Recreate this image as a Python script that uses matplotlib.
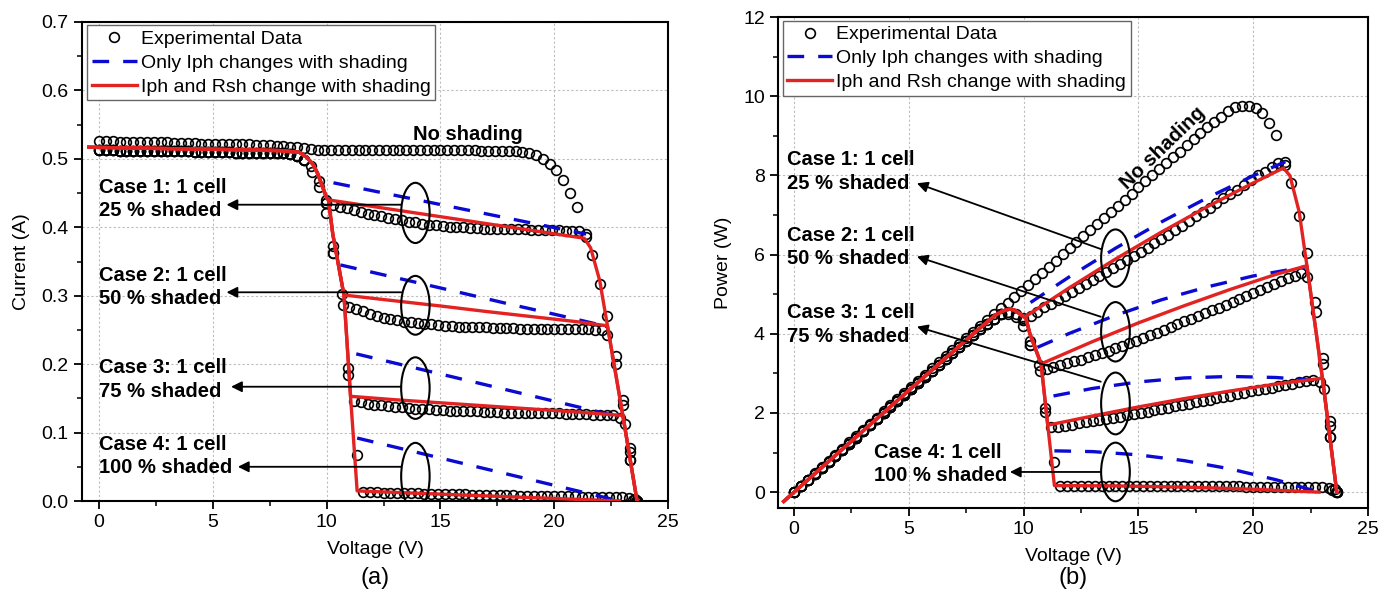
import numpy as np
import matplotlib
matplotlib.use('Agg')
import matplotlib.pyplot as plt
from matplotlib.patches import Ellipse
from matplotlib.lines import Line2D
from matplotlib.ticker import MultipleLocator

plt.rcParams['font.family'] = ['Liberation Sans', 'DejaVu Sans']

# ---------------- data (I-V) ----------------
# Experimental data, no shading
v_exp_noshade = [0.0, 0.3, 0.6, 0.9, 1.2, 1.5, 1.8, 2.1, 2.4, 2.7, 3.0, 3.3, 3.6, 3.9, 4.2, 4.5,
                 4.8, 5.1, 5.4, 5.7, 6.0, 6.3, 6.6, 6.9, 7.2, 7.5, 7.8, 8.1, 8.4, 8.7, 9.0, 9.3,
                 9.6, 9.9, 10.2, 10.5, 10.8, 11.1, 11.4, 11.7, 12.0, 12.3, 12.6, 12.9, 13.2, 13.5,
                 13.8, 14.1, 14.4, 14.7, 15.0, 15.3, 15.6, 15.9, 16.2, 16.5, 16.8, 17.1, 17.4,
                 17.7, 18.0, 18.3, 18.6, 18.9, 19.2, 19.5, 19.8, 20.1, 20.4, 20.7, 21.0, 21.4,
                 22.0, 22.7, 23.35, 23.64]
i_exp_noshade = [0.526, 0.526, 0.526, 0.525, 0.525, 0.525, 0.525, 0.524, 0.524, 0.524, 0.524,
                 0.523, 0.523, 0.523, 0.523, 0.522, 0.522, 0.522, 0.522, 0.521, 0.521, 0.521,
                 0.521, 0.520, 0.520, 0.520, 0.519, 0.519, 0.518, 0.518, 0.516, 0.514, 0.513,
                 0.513, 0.513, 0.513, 0.513, 0.513, 0.513, 0.513, 0.513, 0.513, 0.513, 0.513,
                 0.513, 0.513, 0.513, 0.513, 0.513, 0.513, 0.513, 0.513, 0.513, 0.513, 0.513,
                 0.513, 0.512, 0.512, 0.512, 0.512, 0.512, 0.511, 0.510, 0.509, 0.506, 0.500,
                 0.493, 0.483, 0.469, 0.450, 0.429, 0.386, 0.317, 0.212, 0.072, 0.0]

# Experimental data shared by the four shaded cases (before the bypass knee)
v_exp_shaded_common = [0.0, 0.3, 0.6, 0.9, 1.2, 1.5, 1.8, 2.1, 2.4, 2.7, 3.0, 3.3, 3.6, 3.9,
                       4.2, 4.5, 4.8, 5.1, 5.4, 5.7, 6.0, 6.3, 6.6, 6.9, 7.2, 7.5, 7.8, 8.1,
                       8.4, 8.7, 9.0]
i_exp_shaded_common = [0.513, 0.513, 0.513, 0.512, 0.512, 0.512, 0.512, 0.512, 0.511, 0.511,
                       0.511, 0.511, 0.511, 0.511, 0.510, 0.510, 0.510, 0.510, 0.510, 0.510,
                       0.509, 0.509, 0.509, 0.509, 0.509, 0.508, 0.508, 0.508, 0.507, 0.504,
                       0.499]

# Case 1: 25 % shaded
v_exp_case1 = [9.3, 9.65, 9.98, 10.3, 10.6, 10.9, 11.2, 11.5, 11.8, 12.1, 12.4, 12.7, 13.0,
               13.3, 13.6, 13.9, 14.2, 14.5, 14.8, 15.1, 15.4, 15.7, 16.0, 16.3, 16.6, 16.9,
               17.2, 17.5, 17.8, 18.1, 18.4, 18.7, 19.0, 19.3, 19.6, 19.9, 20.2, 20.5, 20.8,
               21.1, 21.4, 21.66, 22.34, 23.02, 23.35, 23.6]
i_exp_case1 = [0.489, 0.467, 0.440, 0.433, 0.430, 0.428, 0.425, 0.423, 0.420, 0.418, 0.416,
               0.414, 0.412, 0.410, 0.408, 0.407, 0.405, 0.404, 0.403, 0.402, 0.401, 0.400,
               0.400, 0.399, 0.399, 0.398, 0.398, 0.398, 0.397, 0.397, 0.397, 0.397, 0.396,
               0.396, 0.396, 0.396, 0.396, 0.395, 0.395, 0.394, 0.390, 0.360, 0.270, 0.147,
               0.060, 0.0]

# Case 2: 50 % shaded
v_exp_case2 = [9.34, 9.65, 9.98, 10.27, 10.66, 10.7, 11.0, 11.3, 11.6, 11.9, 12.2, 12.5, 12.8,
               13.1, 13.4, 13.7, 14.0, 14.3, 14.6, 14.9, 15.2, 15.5, 15.8, 16.1, 16.4, 16.7,
               17.0, 17.3, 17.6, 17.9, 18.2, 18.5, 18.8, 19.1, 19.4, 19.7, 20.0, 20.3, 20.6,
               20.9, 21.2, 21.5, 21.8, 22.1, 22.34, 22.73, 23.02, 23.35, 23.55]
i_exp_case2 = [0.481, 0.459, 0.435, 0.372, 0.302, 0.287, 0.283, 0.280, 0.277, 0.274, 0.271,
               0.268, 0.266, 0.264, 0.262, 0.261, 0.260, 0.259, 0.258, 0.257, 0.256, 0.256,
               0.255, 0.255, 0.254, 0.254, 0.254, 0.253, 0.253, 0.253, 0.253, 0.252, 0.252,
               0.252, 0.252, 0.252, 0.252, 0.251, 0.251, 0.251, 0.251, 0.251, 0.250, 0.250,
               0.243, 0.200, 0.141, 0.077, 0.003]

# Case 3: 75 % shaded
v_exp_case3 = [9.98, 10.27, 10.95, 11.2, 11.5, 11.8, 12.1, 12.4, 12.7, 13.0, 13.3, 13.6, 13.9,
               14.2, 14.5, 14.8, 15.1, 15.4, 15.7, 16.0, 16.3, 16.6, 16.9, 17.2, 17.5, 17.8,
               18.1, 18.4, 18.7, 19.0, 19.3, 19.6, 19.9, 20.2, 20.5, 20.8, 21.1, 21.4, 21.7,
               22.0, 22.3, 22.6, 22.9, 23.1, 23.35, 23.64]
i_exp_case3 = [0.421, 0.362, 0.195, 0.146, 0.144, 0.142, 0.141, 0.140, 0.139, 0.138, 0.137,
               0.136, 0.135, 0.134, 0.134, 0.133, 0.133, 0.132, 0.132, 0.131, 0.131, 0.131,
               0.130, 0.130, 0.130, 0.129, 0.129, 0.129, 0.129, 0.128, 0.128, 0.128, 0.128,
               0.128, 0.127, 0.127, 0.127, 0.127, 0.126, 0.126, 0.126, 0.125, 0.122, 0.113,
               0.060, 0.0]

# Case 4: 100 % shaded
v_exp_case4 = [9.98, 10.27, 10.95, 11.34, 11.6, 11.9, 12.2, 12.5, 12.8, 13.1, 13.4, 13.7, 14.0,
               14.3, 14.6, 14.9, 15.2, 15.5, 15.8, 16.1, 16.4, 16.7, 17.0, 17.3, 17.6, 17.9,
               18.2, 18.5, 18.8, 19.1, 19.4, 19.7, 20.0, 20.3, 20.6, 20.9, 21.2, 21.5, 21.8,
               22.1, 22.4, 22.7, 23.0, 23.3, 23.45, 23.64]
i_exp_case4 = [0.435, 0.362, 0.184, 0.067, 0.0135, 0.0130, 0.0126, 0.0122, 0.0120, 0.0118,
               0.0115, 0.0112, 0.0110, 0.0108, 0.0106, 0.0104, 0.0102, 0.0100, 0.0098, 0.0096,
               0.0094, 0.0092, 0.0090, 0.0088, 0.0086, 0.0084, 0.0082, 0.0080, 0.0078, 0.0076,
               0.0074, 0.0072, 0.0070, 0.0068, 0.0067, 0.0066, 0.0065, 0.0064, 0.0063, 0.0062,
               0.0061, 0.0060, 0.0055, 0.0040, 0.0020, 0.0]

# Model: only Iph changes with shading (blue dashed)
v_blue_case1 = [10.3, 12.0, 14.0, 16.0, 18.0, 20.0, 21.4]
i_blue_case1 = [0.465, 0.4535, 0.440, 0.4265, 0.413, 0.3995, 0.390]
v_blue_case2 = [10.6, 12.0, 14.0, 16.0, 18.0, 20.0, 22.34]
i_blue_case2 = [0.345, 0.3343, 0.319, 0.3036, 0.288, 0.273, 0.255]
v_blue_case3 = [11.3, 13.0, 15.0, 17.0, 19.0, 21.0, 22.87]
i_blue_case3 = [0.215, 0.2015, 0.1856, 0.1697, 0.1538, 0.1379, 0.123]
v_blue_case4 = [11.34, 13.0, 15.0, 17.0, 19.0, 21.0, 22.87]
i_blue_case4 = [0.092, 0.0788, 0.0628, 0.0468, 0.0309, 0.0149, 0.0]

# Model: Iph and Rsh change with shading (red)
v_red_common = [-0.45, 2.0, 5.0, 8.0, 8.8, 9.1, 9.4, 9.6, 9.8, 10.0]
i_red_common = [0.517, 0.5155, 0.514, 0.512, 0.5095, 0.503, 0.492, 0.479, 0.461, 0.443]
v_red_case1 = [10.08, 12.0, 14.0, 16.0, 18.0, 20.0, 21.32, 21.6, 22.0, 22.34, 23.02, 23.64]
i_red_case1 = [0.440, 0.4305, 0.4205, 0.4105, 0.4005, 0.3905, 0.384, 0.370, 0.322, 0.256,
               0.124, 0.0]
v_red_case2 = [10.08, 10.27, 10.76, 13.0, 15.0, 17.0, 19.0, 21.0, 22.34, 23.02, 23.64]
i_red_case2 = [0.440, 0.390, 0.301, 0.2925, 0.285, 0.277, 0.2695, 0.262, 0.256, 0.124, 0.0]
v_red_case3 = [10.08, 10.27, 10.76, 11.05, 13.0, 15.0, 17.0, 19.0, 21.0, 23.02, 23.64]
i_red_case3 = [0.440, 0.390, 0.301, 0.153, 0.148, 0.1435, 0.139, 0.1345, 0.130, 0.125, 0.0]
v_red_case4 = [10.08, 10.27, 10.76, 11.05, 11.34, 14.0, 17.0, 20.0, 22.87]
i_red_case4 = [0.440, 0.390, 0.301, 0.153, 0.0147, 0.0113, 0.0075, 0.0037, 0.0]

case_labels = ['Case 1: 1 cell\n25 % shaded', 'Case 2: 1 cell\n50 % shaded',
               'Case 3: 1 cell\n75 % shaded', 'Case 4: 1 cell\n100 % shaded']
legend_labels = ['Experimental Data', 'Only Iph changes with shading',
                 'Iph and Rsh change with shading']

BLUE = '#0a0ad2'
RED = '#e32222'

exp_sets = [(v_exp_noshade, i_exp_noshade),
            (v_exp_shaded_common + v_exp_case1, i_exp_shaded_common + i_exp_case1),
            (v_exp_shaded_common + v_exp_case2, i_exp_shaded_common + i_exp_case2),
            (v_exp_shaded_common + v_exp_case3, i_exp_shaded_common + i_exp_case3),
            (v_exp_shaded_common + v_exp_case4, i_exp_shaded_common + i_exp_case4)]
blue_sets = [(v_blue_case1, i_blue_case1), (v_blue_case2, i_blue_case2),
             (v_blue_case3, i_blue_case3), (v_blue_case4, i_blue_case4)]
red_sets = [(v_red_common + v_red_case1, i_red_common + i_red_case1),
            (v_red_common + v_red_case2, i_red_common + i_red_case2),
            (v_red_common + v_red_case3, i_red_common + i_red_case3),
            (v_red_common + v_red_case4, i_red_common + i_red_case4)]

FS = 14


def yval(v, i, power):
    v = np.asarray(v, float)
    i = np.asarray(i, float)
    return v * i if power else i


def draw(ax, power):
    for v, i in exp_sets:
        ax.plot(v, yval(v, i, power), 'o', ms=7, mfc='none', mec='k', mew=1.2, zorder=3)
    for v, i in blue_sets:
        ax.plot(v, yval(v, i, power), color=BLUE, lw=2.4, dashes=(5, 4.2), zorder=4)
    for v, i in red_sets:
        ax.plot(v, yval(v, i, power), color=RED, lw=2.4, zorder=5)
    for s in ax.spines.values():
        s.set_linewidth(1.5)
    ax.tick_params(which='both', direction='out', top=False, right=False,
                   labelsize=FS)
    ax.tick_params(which='major', length=6, width=1.3)
    ax.tick_params(which='minor', length=3.5, width=1.1)
    ax.xaxis.set_major_locator(MultipleLocator(5))
    ax.xaxis.set_minor_locator(MultipleLocator(2.5))
    ax.grid(True, which='major', linestyle=(0, (2, 2)), color='#bdbdbd', lw=0.8)
    ax.set_axisbelow(True)
    ax.set_xlabel('Voltage (V)', fontsize=FS, labelpad=7)
    handles = [Line2D([], [], ls='none', marker='o', ms=7, mfc='none', mec='k', mew=1.2),
               Line2D([], [], color=BLUE, lw=2.4, dashes=(5, 4.2)),
               Line2D([], [], color=RED, lw=2.4)]
    return handles


def add_legend(ax, handles, anchor):
    leg = ax.legend(handles, legend_labels, loc='upper left', bbox_to_anchor=anchor,
                    bbox_transform=ax.transData, fontsize=FS, frameon=True, fancybox=False,
                    edgecolor='#666666', framealpha=1, borderaxespad=0, borderpad=0.25,
                    labelspacing=0.32, handlelength=2.3, handletextpad=0.2)
    leg.get_frame().set_linewidth(1.0)


fig = plt.figure(figsize=(13.94, 6.01), dpi=100)
W, H = 1394, 601

# ---------------- (a) I-V ----------------
axa = fig.add_axes([82 / W, (H - 501) / H, (668 - 82) / W, (501 - 22) / H])
h = draw(axa, False)
axa.set_xlim(-0.75, 25)
axa.set_ylim(0, 0.7)
axa.yaxis.set_major_locator(MultipleLocator(0.1))
axa.yaxis.set_minor_locator(MultipleLocator(0.05))
axa.yaxis.set_major_formatter(matplotlib.ticker.FormatStrFormatter('%.1f'))
axa.set_ylabel('Current (A)', fontsize=FS, labelpad=8)
add_legend(axa, h, (-0.52, 0.695))

axa.text(13.8, 0.536, 'No shading', fontsize=14.5, fontweight='bold', ha='left', va='center')
lab_y_a = [0.4415, 0.313, 0.1775, 0.0655]
arr_y_a = [0.433, 0.305, 0.167, 0.050]
arr_x_a = [5.6, 5.6, 5.8, 6.1]
ell_y_a = [0.421, 0.286, 0.165, 0.036]
ell_h_a = [0.088, 0.086, 0.090, 0.098]
for k in range(4):
    axa.text(0.0, lab_y_a[k], case_labels[k], fontsize=14.5, fontweight='bold',
             ha='left', va='center', linespacing=1.3)
    axa.annotate('', xy=(arr_x_a[k], arr_y_a[k]), xytext=(13.28, arr_y_a[k]),
                 arrowprops=dict(arrowstyle='-|>', color='k', lw=1.3, mutation_scale=16,
                                 shrinkA=0, shrinkB=0), zorder=6)
    axa.add_patch(Ellipse((13.9, ell_y_a[k]), 1.25, ell_h_a[k], fill=False, ec='k', lw=1.5,
                          zorder=6))

# ---------------- (b) P-V ----------------
axb = fig.add_axes([778 / W, (H - 508) / H, (1368 - 778) / W, (508 - 17) / H])
h = draw(axb, True)
axb.set_xlim(-0.7, 25)
axb.set_ylim(-0.4, 12)
axb.yaxis.set_major_locator(MultipleLocator(2))
axb.yaxis.set_minor_locator(MultipleLocator(1))
axb.set_ylabel('Power (W)', fontsize=FS, labelpad=8)
add_legend(axb, h, (-0.5, 11.9))

axb.text(16.06, 8.69, 'No shading', fontsize=14.5, fontweight='bold', ha='center',
         va='center', rotation=44)
lab_xy_b = [(-0.3, 8.1), (-0.3, 6.19), (-0.3, 4.24), (3.5, 0.71)]
arr_head_b = [(5.35, 7.8), (5.35, 5.95), (5.35, 4.18), (9.4, 0.51)]
arr_tail_b = [(13.36, 6.14), (13.36, 4.43), (13.36, 2.79), (13.36, 0.51)]
ell_y_b = [5.91, 4.05, 2.24, 0.51]
ell_h_b = [1.45, 1.50, 1.56, 1.48]
for k in range(4):
    axb.text(lab_xy_b[k][0], lab_xy_b[k][1], case_labels[k], fontsize=14.5,
             fontweight='bold', ha='left', va='center', linespacing=1.3)
    axb.annotate('', xy=arr_head_b[k], xytext=arr_tail_b[k],
                 arrowprops=dict(arrowstyle='-|>', color='k', lw=1.3, mutation_scale=16,
                                 shrinkA=0, shrinkB=0), zorder=6)
    axb.add_patch(Ellipse((14.0, ell_y_b[k]), 1.25, ell_h_b[k], fill=False, ec='k', lw=1.5,
                          zorder=6))

fig.text(375 / W, 1 - 578 / H, '(a)', fontsize=17, ha='center', va='center')
fig.text(1073 / W, 1 - 578 / H, '(b)', fontsize=17, ha='center', va='center')

fig.savefig('out.png', dpi=100)
